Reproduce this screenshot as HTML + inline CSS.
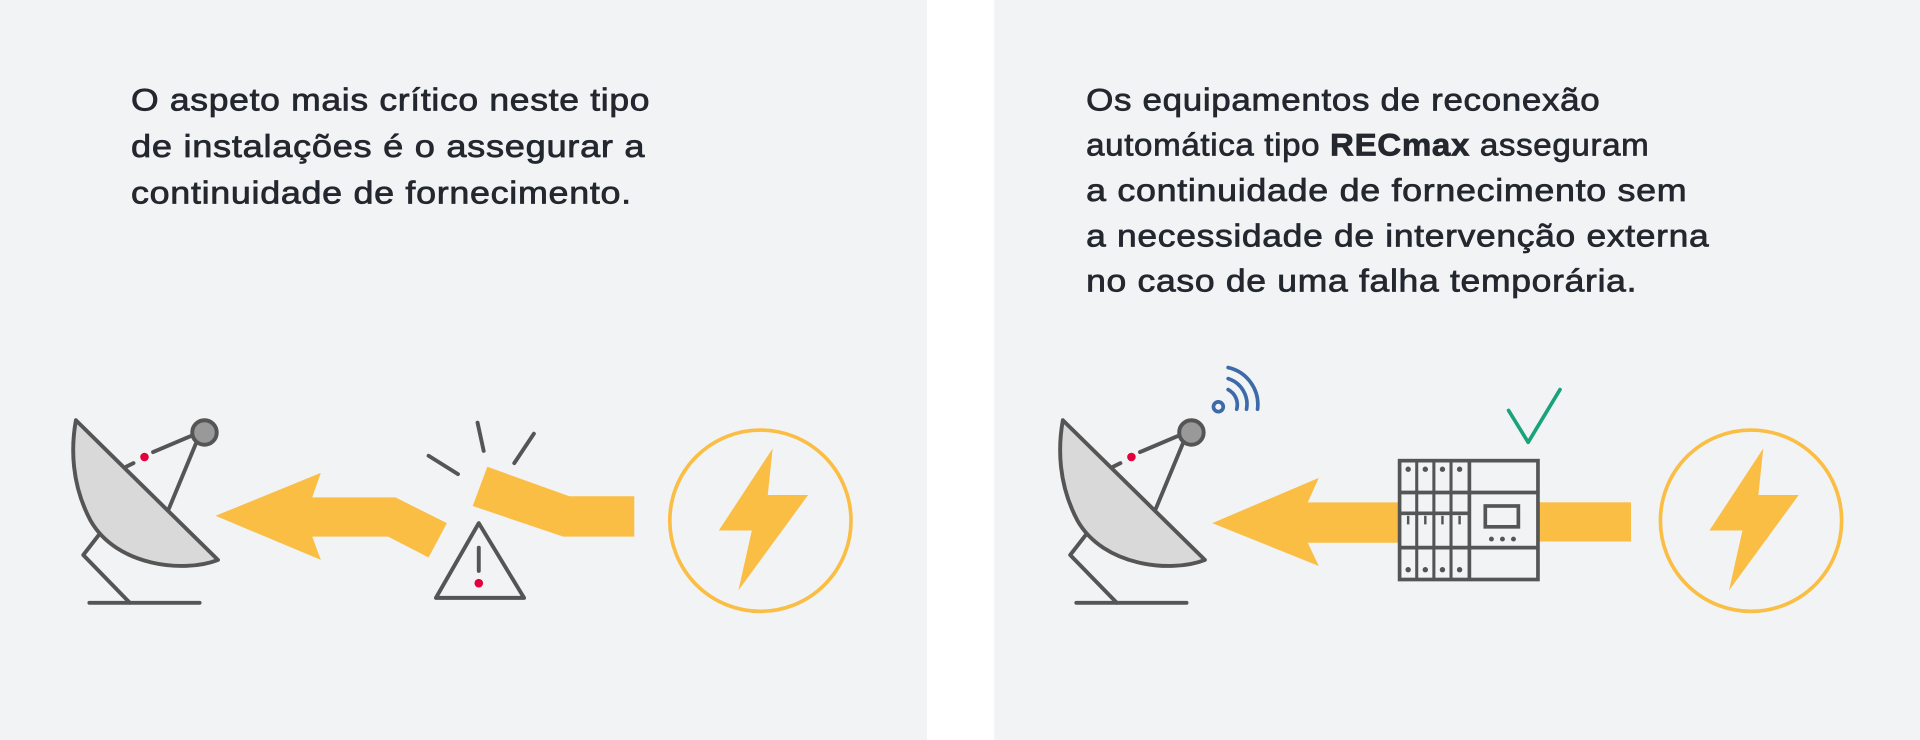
<!DOCTYPE html>
<html><head><meta charset="utf-8"><style>
html,body{margin:0;padding:0;background:#fff;}
svg{display:block;}
text{font-family:"Liberation Sans",sans-serif;font-size:26px;fill:#23272e;stroke:#23272e;stroke-width:0.6px;letter-spacing:0.5px;}
</style></head><body>
<svg width="1920" height="740" viewBox="0 0 1568 604" preserveAspectRatio="none" xmlns="http://www.w3.org/2000/svg">
<rect x="0" y="0" width="1568" height="604" fill="#fff"/>
<rect x="0" y="0" width="757" height="604" fill="#f2f3f5"/>
<rect x="812" y="0" width="756" height="604" fill="#f2f3f5"/>

<text x="107" y="90" textLength="424" lengthAdjust="spacingAndGlyphs">O aspeto mais crítico neste tipo</text>
<text x="107" y="128" textLength="420" lengthAdjust="spacingAndGlyphs">de instalações é o assegurar a</text>
<text x="107" y="166" textLength="409" lengthAdjust="spacingAndGlyphs">continuidade de fornecimento.</text>

<text x="887" y="90" textLength="420" lengthAdjust="spacingAndGlyphs">Os equipamentos de reconexão</text>
<text x="887" y="127" textLength="460" lengthAdjust="spacingAndGlyphs">automática tipo <tspan font-weight="bold">RECmax</tspan> asseguram</text>
<text x="887" y="164" textLength="491" lengthAdjust="spacingAndGlyphs">a continuidade de fornecimento sem</text>
<text x="887" y="201" textLength="509" lengthAdjust="spacingAndGlyphs">a necessidade de intervenção externa</text>
<text x="887" y="238" textLength="450" lengthAdjust="spacingAndGlyphs">no caso de uma falha temporária.</text>

<defs>
<g id="dish" stroke="#555" stroke-width="3.2" stroke-linecap="round" stroke-linejoin="round">
<polyline points="82,435 68,453 106,492" fill="none"/>
<line x1="73" y1="492" x2="163" y2="492"/>
<line x1="160" y1="362" x2="138" y2="415"/>
<line x1="103" y1="381" x2="109" y2="378"/>
<line x1="125" y1="369" x2="158" y2="355"/>
<path d="M62,343 L178,457 C150,468 95,462 74,425 C58,395 58,365 62,343 Z" fill="#d9d9d9"/>
<circle cx="167" cy="353" r="10" fill="#999"/>
<circle cx="118" cy="373" r="3.5" fill="#e4003a" stroke="none"/>
</g>
<g id="bolt">
<circle cx="621" cy="425" r="74" fill="none" stroke="#fbbe45" stroke-width="3"/>
<polygon points="631,366 627,404 660,404 603,482 614,433 587,433" fill="#fbbe45"/>
</g>
</defs>

<use href="#dish"/>
<polygon points="176,421 262,386 255,406 323,406 365,427 350,455 317,438 255,438 262,457" fill="#fbbe45"/>
<polygon points="398,381 465,405 518,405 518,438 460,438 386,413" fill="#fbbe45"/>
<g stroke="#555" stroke-width="3.2" stroke-linecap="round">
<line x1="390" y1="345" x2="395" y2="368"/>
<line x1="436" y1="354" x2="420" y2="378"/>
<line x1="350" y1="372" x2="374" y2="387"/>
<polygon points="391,427 356,488 428,488" fill="none" stroke-linejoin="round"/>
<line x1="391" y1="447" x2="391" y2="466"/>
</g>
<circle cx="391" cy="476" r="3.5" fill="#e4003a"/>
<use href="#bolt"/>

<use href="#dish" transform="translate(806,0)"/>
<g fill="none" stroke="#3d6aa8" stroke-width="3" stroke-linecap="round">
<circle cx="995" cy="332" r="4"/>
<path d="M1003,318 A14,14 0 0 1 1010,334"/>
<path d="M1003,309 A22,22 0 0 1 1018,334"/>
<path d="M1003,300 A31,31 0 0 1 1027,334"/>
</g>
<polygon points="990,427 1077,390 1068,410 1143,410 1143,443 1068,443 1077,462" fill="#fbbe45"/>
<rect x="1257" y="410" width="75" height="32" fill="#fbbe45"/>
<g stroke="#555" stroke-width="3" fill="none">
<rect x="1143" y="376" width="113" height="97" fill="#f2f3f5"/>
<line x1="1200" y1="376" x2="1200" y2="473"/>
<line x1="1157" y1="376" x2="1157" y2="473" stroke-width="2.5"/>
<line x1="1171" y1="376" x2="1171" y2="473" stroke-width="2.5"/>
<line x1="1185" y1="376" x2="1185" y2="473" stroke-width="2.5"/>
<line x1="1143" y1="402" x2="1256" y2="402"/>
<line x1="1143" y1="419" x2="1200" y2="419"/>
<line x1="1143" y1="447" x2="1256" y2="447"/>
<rect x="1213" y="413" width="27" height="17"/>
</g>
<g fill="#555">
<circle cx="1150" cy="383" r="2.2"/><circle cx="1164" cy="383" r="2.2"/><circle cx="1178" cy="383" r="2.2"/><circle cx="1192" cy="383" r="2.2"/>
<circle cx="1150" cy="465" r="2.2"/><circle cx="1164" cy="465" r="2.2"/><circle cx="1178" cy="465" r="2.2"/><circle cx="1192" cy="465" r="2.2"/>
<rect x="1149" y="421" width="2" height="7"/><rect x="1163" y="421" width="2" height="7"/><rect x="1177" y="421" width="2" height="7"/><rect x="1191" y="421" width="2" height="7"/>
<circle cx="1218" cy="440" r="2"/><circle cx="1227" cy="440" r="2"/><circle cx="1236" cy="440" r="2"/>
</g>
<polyline points="1232,335 1248,361 1274,318" fill="none" stroke="#1aa37a" stroke-width="3" stroke-linecap="round" stroke-linejoin="round"/>
<use href="#bolt" transform="translate(809,0)"/>
</svg>
</body></html>
